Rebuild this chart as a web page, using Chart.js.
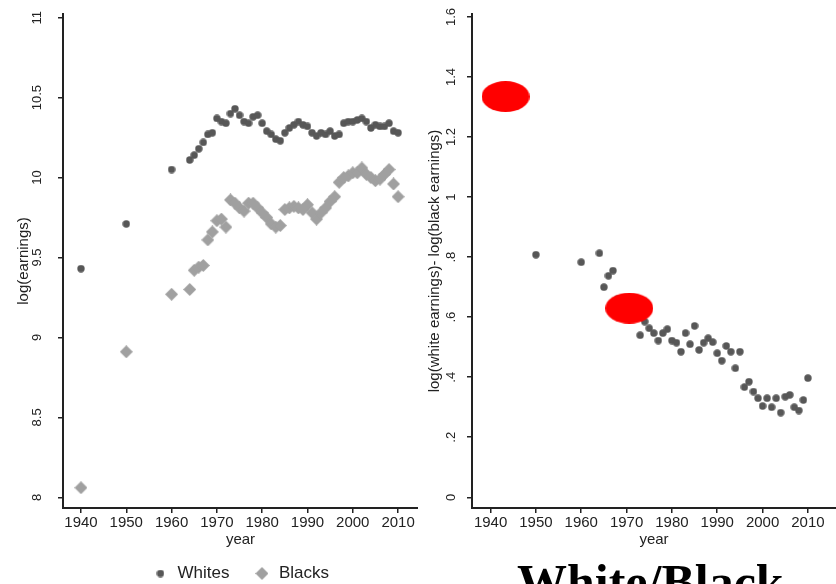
<!DOCTYPE html>
<html>
<head>
<meta charset="utf-8">
<title>White/Black earnings</title>
<script src="https://cdn.jsdelivr.net/npm/chart.js@4.4.1/dist/chart.umd.min.js"></script>
<style>
  html, body { margin: 0; padding: 0; background: #fff; overflow: hidden; }
  body { width: 836px; height: 584px; position: relative; }
  #chart1 { position: absolute; left: 0; top: 0; }
  #chart2 { position: absolute; left: 418px; top: 0; }
  .caption {
    position: absolute; left: 517px; top: 557px;
    font: bold 50px/50px "Liberation Serif", "Times New Roman", serif;
    color: #000; white-space: nowrap;
  }
</style>
</head>
<body>
<canvas id="chart1" width="418" height="592"></canvas>
<canvas id="chart2" width="418" height="584"></canvas>
<div class="caption">White/Black</div>
<script>
var years = [1940, 1950, 1960,
    1964, 1965, 1966, 1967, 1968, 1969, 1970, 1971, 1972, 1973,
    1974, 1975, 1976, 1977, 1978, 1979, 1980, 1981, 1982, 1983,
    1984, 1985, 1986, 1987, 1988, 1989, 1990, 1991, 1992, 1993,
    1994, 1995, 1996, 1997, 1998, 1999, 2000, 2001, 2002, 2003,
    2004, 2005, 2006, 2007, 2008, 2009, 2010];
var whites = [9.43, 9.71, 10.05,
    10.11, 10.14, 10.18, 10.22, 10.27, 10.28, 10.37, 10.35, 10.34, 10.40,
    10.43, 10.39, 10.35, 10.34, 10.38, 10.39, 10.34, 10.29, 10.27, 10.24,
    10.23, 10.28, 10.31, 10.33, 10.35, 10.33, 10.32, 10.28, 10.26, 10.28,
    10.27, 10.29, 10.26, 10.27, 10.34, 10.35, 10.35, 10.36, 10.37, 10.35,
    10.31, 10.33, 10.32, 10.32, 10.34, 10.29, 10.28];
var blacks = [8.06, 8.91, 9.27,
    9.30, 9.42, 9.44, 9.45, 9.61, 9.66, 9.73, 9.74, 9.69, 9.86,
    9.84, 9.81, 9.79, 9.84, 9.84, 9.81, 9.78, 9.75, 9.71, 9.69,
    9.70, 9.80, 9.81, 9.82, 9.81, 9.80, 9.83, 9.78, 9.74, 9.78,
    9.81, 9.85, 9.88, 9.97, 10.00, 10.01, 10.03, 10.03, 10.06, 10.02,
    10.00, 9.98, 9.99, 10.02, 10.05, 9.96, 9.88];
var gap = [1.34, 0.808, 0.783,
    0.813, 0.70, 0.738, 0.755, 0.66, 0.63, 0.64, 0.61, 0.62, 0.54,
    0.585, 0.563, 0.547, 0.522, 0.547, 0.56, 0.522, 0.515, 0.485, 0.547,
    0.51, 0.571, 0.491, 0.515, 0.53, 0.517, 0.48, 0.455, 0.504, 0.485,
    0.43, 0.485, 0.367, 0.385, 0.352, 0.33, 0.304, 0.33, 0.30, 0.33,
    0.282, 0.335, 0.341, 0.30, 0.289, 0.324, 0.397];

// red marks on the right panel
var markYears = [1943.3, 1970.6];
var markGaps = [1.335, 0.63];

var yearTicks = [1940, 1950, 1960, 1970, 1980, 1990, 2000, 2010];
var earnTicks = [8, 8.5, 9, 9.5, 10, 10.5, 11];
var earnLabels = ['8', '8.5', '9', '9.5', '10', '10.5', '11'];
var gapTicks = [0, 0.2, 0.4, 0.6, 0.8, 1, 1.2, 1.4, 1.6];
var gapLabels = ['0', '.2', '.4', '.6', '.8', '1', '1.2', '1.4', '1.6'];

Chart.defaults.font.family = '"Liberation Sans", Arial, sans-serif';
Chart.defaults.color = '#222';

function points(xs, ys) {
    return xs.map(function (x, i) { return { x: x, y: ys[i] }; });
}

function makeMarker(w, h, draw) {
    var c = document.createElement('canvas');
    c.width = w;
    c.height = h;
    draw(c.getContext('2d'), w, h);
    return c;
}

var dot = makeMarker(8, 8, function (ctx, w, h) {
    ctx.fillStyle = '#575757';
    ctx.beginPath();
    ctx.arc(w / 2, h / 2, 3.7, 0, Math.PI * 2);
    ctx.fill();
});
var diamond = makeMarker(13, 13, function (ctx, w, h) {
    ctx.fillStyle = '#a0a0a0';
    ctx.beginPath();
    ctx.moveTo(w / 2, 0);
    ctx.lineTo(w, h / 2);
    ctx.lineTo(w / 2, h);
    ctx.lineTo(0, h / 2);
    ctx.closePath();
    ctx.fill();
});
var redBlob = makeMarker(48, 31, function (ctx, w, h) {
    ctx.fillStyle = '#ff0000';
    ctx.beginPath();
    ctx.ellipse(w / 2, h / 2, w / 2, h / 2, 0, 0, Math.PI * 2);
    ctx.fill();
});

// y tick labels are drawn turned, centred on their ticks (Stata style)
var rotatedTicks = {
    id: 'rotatedTicks',
    afterDraw: function (chart, args, opts) {
        var ctx = chart.ctx;
        var scale = chart.scales.y;
        ctx.save();
        ctx.font = '13px "Liberation Sans", Arial, sans-serif';
        ctx.fillStyle = '#222';
        ctx.textAlign = 'center';
        ctx.textBaseline = 'middle';
        opts.values.forEach(function (v, i) {
            ctx.save();
            ctx.translate(opts.x, scale.getPixelForValue(v));
            ctx.rotate(-Math.PI / 2);
            ctx.fillText(opts.labels[i], 0, 0);
            ctx.restore();
        });
        ctx.restore();
    }
};

function xAxis(min, max, height, titlePad) {
    return {
        type: 'linear',
        min: min,
        max: max,
        afterBuildTicks: function (s) {
            s.ticks = yearTicks.map(function (v) { return { value: v }; });
        },
        afterFit: function (s) { s.height = height; },
        ticks: {
            callback: function (v) { return String(v); },
            font: { size: 15 },
            padding: 1,
            maxRotation: 0,
            autoSkip: false
        },
        grid: { drawOnChartArea: false, tickLength: 5, color: '#222', lineWidth: 1.5 },
        border: { color: '#222', width: 2 },
        title: { display: true, text: 'year', font: { size: 15 }, padding: { top: 0, bottom: titlePad } }
    };
}

function yAxis(min, max, tickValues, width, title, titlePad) {
    return {
        type: 'linear',
        min: min,
        max: max,
        afterBuildTicks: function (s) {
            s.ticks = tickValues.map(function (v) { return { value: v }; });
        },
        afterFit: function (s) { s.width = width; },
        ticks: { display: false },
        grid: { drawOnChartArea: false, tickLength: 5, color: '#222', lineWidth: 1.5 },
        border: { color: '#222', width: 2 },
        title: { display: true, text: title, font: { size: 15 }, padding: { top: titlePad, bottom: 0 } }
    };
}

function makeEarningsChart() {
    var ctx = document.getElementById('chart1').getContext('2d');
    new Chart(ctx, {
        type: 'scatter',
        data: {
            datasets: [{
                label: 'Whites',
                data: points(years, whites),
                pointStyle: dot,
                order: 1
            }, {
                label: 'Blacks',
                data: points(years, blacks),
                pointStyle: diamond,
                order: 2
            }]
        },
        plugins: [rotatedTicks],
        options: {
            responsive: false,
            animation: false,
            events: [],
            layout: { autoPadding: false, padding: { top: 14, right: 0, bottom: 0, left: 0 } },
            plugins: {
                legend: {
                    position: 'bottom',
                    fullSize: false,
                    labels: { usePointStyle: true, font: { size: 17 }, padding: 24 }
                },
                tooltip: { enabled: false },
                rotatedTicks: { values: earnTicks, labels: earnLabels, x: 37.5 }
            },
            scales: {
                x: xAxis(1936.03, 2014.4, 33, -8),
                y: yAxis(7.933, 11.023, earnTicks, 63, 'log(earnings)', 15)
            }
        }
    });
}

function makeGapChart() {
    var ctx = document.getElementById('chart2').getContext('2d');
    new Chart(ctx, {
        type: 'scatter',
        data: {
            datasets: [{
                label: 'marked',
                data: points(markYears, markGaps),
                pointStyle: redBlob,
                order: 0
            }, {
                label: 'gap',
                data: points(years, gap),
                pointStyle: dot,
                order: 1
            }]
        },
        plugins: [rotatedTicks],
        options: {
            responsive: false,
            animation: false,
            events: [],
            layout: { autoPadding: false, padding: { top: 14, right: 0, bottom: 0, left: 0 } },
            plugins: {
                legend: { display: false },
                tooltip: { enabled: false },
                rotatedTicks: { values: gapTicks, labels: gapLabels, x: 33.3 }
            },
            scales: {
                x: xAxis(1935.9, 2016.2, 76, 35),
                y: yAxis(-0.0357, 1.61, gapTicks, 54, 'log(white earnings)- log(black earnings)', 8)
            }
        }
    });
}

window.onload = function () {
    makeEarningsChart();
    makeGapChart();
};
</script>
</body>
</html>
